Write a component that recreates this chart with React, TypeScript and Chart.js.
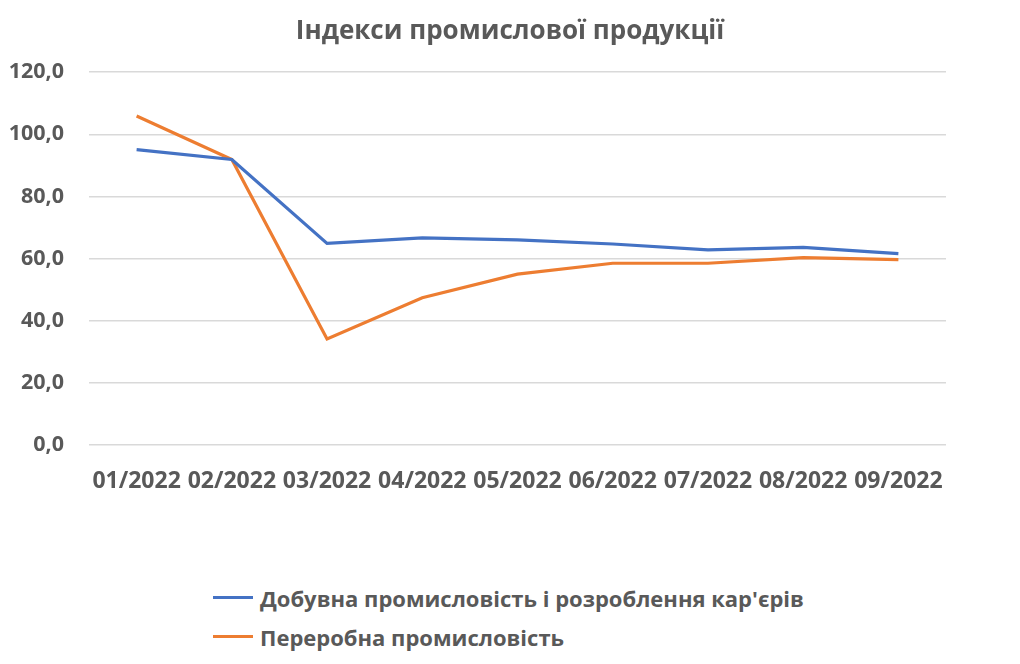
import { useEffect, useRef } from "react";
import Chart from "chart.js/auto";

const months = ["01/2022", "02/2022", "03/2022", "04/2022", "05/2022", "06/2022", "07/2022", "08/2022", "09/2022"];
const mining = [95.1, 91.9, 64.9, 66.7, 66.0, 64.7, 62.8, 63.6, 61.6];
const manufacturing = [105.9, 91.9, 34.1, 47.4, 55.0, 58.5, 58.5, 60.3, 59.7];
const seriesNames = ["Добувна промисловість і розроблення кар'єрів", "Переробна промисловість"];
const seriesColors = ["#4472C4", "#ED7D31"];

const FONT = "'Open Sans', 'Noto Sans', sans-serif";
const TEXT = "#595959";

const App = () => {
  const chartRef = useRef<HTMLCanvasElement | null>(null);
  const chartInstance = useRef<Chart | null>(null);

  useEffect(() => {
    document.body.style.margin = "0";
    if (!chartRef.current) return;
    const ctx = chartRef.current.getContext("2d");
    if (!ctx) return;

    chartInstance.current = new Chart(ctx, {
      type: "line",
      data: {
        labels: months,
        datasets: [mining, manufacturing].map((d, i) => ({
          label: seriesNames[i],
          data: d,
          borderColor: seriesColors[i],
          backgroundColor: seriesColors[i],
          borderWidth: 3.2,
          pointRadius: 0,
          tension: 0,
        })),
      },
      options: {
        responsive: false,
        animation: false,
        layout: { padding: 0 },
        plugins: {
          legend: { display: false },
          tooltip: { enabled: false },
          title: {
            display: true,
            text: "Індекси промислової продукції",
            color: TEXT,
            font: { family: FONT, size: 26, weight: "bold" },
            padding: { top: 16, bottom: 25 },
          },
        },
        scales: {
          x: {
            offset: true,
            grid: { display: false, drawTicks: false },
            border: { display: false },
            ticks: {
              color: TEXT,
              padding: 23,
              maxRotation: 0,
              autoSkip: false,
              font: { family: FONT, size: 23, weight: "bold" },
            },
            afterFit: (s: any) => {
              s.height = 75;
            },
          },
          y: {
            min: 0,
            max: 120,
            grid: { color: "#d9d9d9", lineWidth: 1.5, drawTicks: false },
            border: { display: false },
            ticks: {
              stepSize: 20,
              color: TEXT,
              padding: 25,
              font: { family: FONT, size: 21.5, weight: "bold" },
              callback: (v: any) => Number(v).toFixed(1).replace(".", ","),
            },
            afterFit: (s: any) => {
              s.width = 89;
            },
          },
          // empty right-hand axis, only to keep the plot clear of the right edge
          yRight: {
            position: "right",
            min: 0,
            max: 120,
            grid: { drawOnChartArea: false, drawTicks: false },
            border: { display: false },
            ticks: { display: false },
            afterFit: (s: any) => {
              s.width = 74;
            },
          },
        },
      },
    });

    return () => {
      if (chartInstance.current) {
        chartInstance.current.destroy();
        chartInstance.current = null;
      }
    };
  }, []);

  return (
    <div style={{ position: "relative", width: 1020, height: 664, background: "#fff" }}>
      <canvas ref={chartRef} width={1020} height={520} />
      <div style={{ position: "absolute", left: 213, top: 578, fontFamily: FONT, fontWeight: "bold", fontSize: 22, color: TEXT }}>
        {seriesNames.map((name, i) => (
          <div key={name} style={{ display: "flex", alignItems: "center", height: 39 }}>
            <span style={{ display: "inline-block", width: 40, height: 3, background: seriesColors[i], marginRight: 7 }} />
            <span>{name}</span>
          </div>
        ))}
      </div>
    </div>
  );
};

export default App;
